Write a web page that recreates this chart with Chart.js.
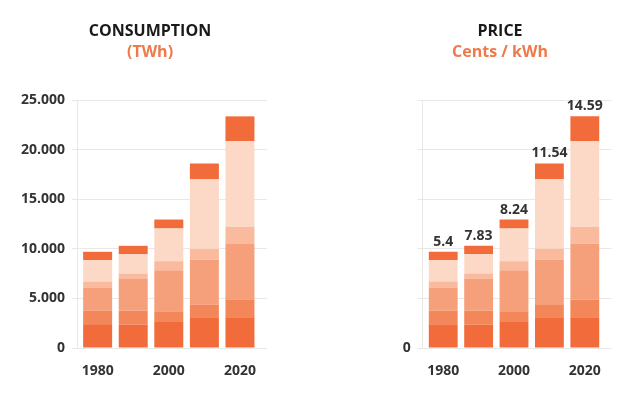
<!DOCTYPE html>
<html>
<head>
<meta charset="utf-8">
<script src="https://cdn.jsdelivr.net/npm/chart.js@4"></script>
<style>
  html, body { margin: 0; padding: 0; background: #ffffff; }
  body { width: 640px; height: 400px; position: relative; overflow: hidden; }
  canvas { position: absolute; top: 0; }
  #c1 { left: 0; }
  #c2 { left: 360px; }
</style>
</head>
<body>
<canvas id="c1" width="300" height="400"></canvas>
<canvas id="c2" width="280" height="400"></canvas>
<script>
// ---- data ----
const years = [1980, 1990, 2000, 2010, 2020];
const seg1 = [2400, 2350, 2700, 3100, 3100];
const seg2 = [1350, 1400, 1000, 1300, 1800];
const seg3 = [2350, 3250, 4150, 4500, 5600];
const seg4 = [600, 500, 900, 1100, 1700];
const seg5 = [2150, 1950, 3300, 7000, 8650];
const seg6 = [850, 850, 900, 1600, 2500];
const priceLabels = ['5.4', '7.83', '8.24', '11.54', '14.59'];
const xTickValues = [1980, 2000, 2020];
const yTickValues = [0, 5000, 10000, 15000, 20000, 25000];
const yTickLabels = ['0', '5.000', '10.000', '15.000', '20.000', '25.000'];
const priceYTickLabels = ['0', '', '', '', '', ''];

const segColors = ['#F26B3A', '#F4875A', '#F6A07B', '#F9BA9D', '#FCD9C6', '#F26B3A'];
const segments = [seg1, seg2, seg3, seg4, seg5, seg6];
const FONT = "'Open Sans', 'Liberation Sans', sans-serif";

function makeDatasets() {
  return segments.map((arr, i) => ({
    label: 'S' + (i + 1),
    data: arr.map((v, j) => ({ x: years[j], y: v })),
    backgroundColor: segColors[i],
    borderWidth: 0,
    barPercentage: 0.815,
    categoryPercentage: 1
  }));
}

const titlePlugin = {
  id: 'titles',
  afterDraw(chart, args, opts) {
    const ctx = chart.ctx;
    const cx = chart.width / 2;
    ctx.save();
    ctx.textAlign = 'center';
    ctx.textBaseline = 'middle';
    ctx.font = "bold 16px " + FONT;
    ctx.fillStyle = '#1a1a1a';
    ctx.fillText(opts.line1, cx, 31);
    ctx.fillStyle = '#EE7A4C';
    ctx.fillText(opts.line2, cx, 52);
    ctx.restore();
  }
};

const valueLabelPlugin = {
  id: 'valueLabels',
  afterDatasetsDraw(chart, args, opts) {
    if (!opts.labels) return;
    const ctx = chart.ctx;
    const meta = chart.getDatasetMeta(chart.data.datasets.length - 1);
    ctx.save();
    ctx.textAlign = 'center';
    ctx.textBaseline = 'bottom';
    ctx.font = "bold 14px " + FONT;
    ctx.fillStyle = '#333333';
    meta.data.forEach((bar, i) => {
      ctx.fillText(opts.labels[i], bar.x, bar.y - 3);
    });
    ctx.restore();
  }
};

function makeChart(id, yWidth, padRight, yLabels, line1, line2, valueLabels) {
  return new Chart(document.getElementById(id), {
    type: 'bar',
    data: { datasets: makeDatasets() },
    plugins: [titlePlugin, valueLabelPlugin],
    options: {
      responsive: false,
      animation: false,
      devicePixelRatio: 1,
      layout: { padding: { top: 100, right: padRight, bottom: 0, left: 0 } },
      plugins: {
        legend: { display: false },
        tooltip: { enabled: false },
        titles: { line1: line1, line2: line2 },
        valueLabels: { labels: valueLabels }
      },
      scales: {
        x: {
          type: 'linear',
          stacked: true,
          offset: false,
          min: 1974.2,
          max: 2027.6,
          grid: { display: false, drawTicks: false, offset: false },
          border: { display: false },
          afterBuildTicks(scale) { scale.ticks = xTickValues.map(v => ({ value: v })); },
          afterFit(scale) { scale.height = 52; },
          ticks: {
            padding: 15,
            color: '#333333',
            font: { family: FONT, weight: 'bold', size: 14 },
            callback: (v) => String(v),
            maxRotation: 0,
            autoSkip: false
          }
        },
        y: {
          stacked: true,
          min: 0,
          max: 25000,
          grid: { color: '#E8E8E8', lineWidth: 1, tickLength: 5, drawTicks: true },
          border: { display: true, color: '#E8E8E8', width: 1 },
          afterBuildTicks(scale) { scale.ticks = yTickValues.map(v => ({ value: v })); },
          afterFit(scale) { scale.width = yWidth; },
          ticks: {
            padding: 7,
            color: '#333333',
            font: { family: FONT, weight: 'bold', size: 14 },
            callback: (v) => yLabels[yTickValues.indexOf(v)]
          }
        }
      }
    }
  });
}

makeChart('c1', 77, 33, yTickLabels, 'CONSUMPTION', '(TWh)', null);
makeChart('c2', 62.7, 28.3, priceYTickLabels, 'PRICE', 'Cents / kWh', priceLabels);
</script>
</body>
</html>
